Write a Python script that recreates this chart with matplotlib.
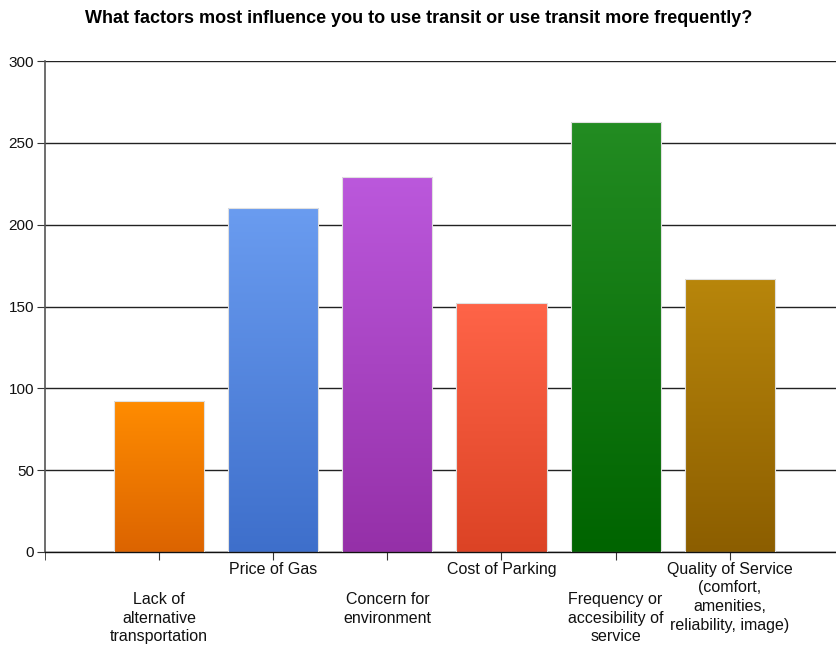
import numpy as np
import matplotlib.pyplot as plt
from matplotlib.colors import LinearSegmentedColormap

plt.rcParams['font.family'] = ['Liberation Sans', 'DejaVu Sans']

# data
factors = [
    "Lack of\nalternative\ntransportation",
    "Price of Gas",
    "Concern for\nenvironment",
    "Cost of Parking",
    "Frequency or\naccesibility of\nservice",
    "Quality of Service\n(comfort,\namenities,\nreliability, image)",
]
responses = [92, 210, 229, 152, 263, 167]

# (top colour, bottom colour) for each bar gradient
bar_shades = [
    ("#ff8c00", "#dc6400"),
    ("#6a9cf0", "#3e6fcb"),
    ("#bb58dc", "#9530a8"),
    ("#ff6448", "#dc4325"),
    ("#238c22", "#006400"),
    ("#b8860b", "#8c5e00"),
]

fig = plt.figure(figsize=(8.37, 6.45), dpi=100)
ax = fig.add_axes([0.0538, 0.1442, 0.9462, 0.7612])

x = np.arange(len(factors))
bars = ax.bar(x, responses, width=0.79, color="none", edgecolor="#e0e0e0",
              linewidth=0.8, zorder=3)

grad = np.linspace(1, 0, 256).reshape(-1, 1)
for bar, (top, bottom) in zip(bars, bar_shades):
    cmap = LinearSegmentedColormap.from_list("g", [bottom, top])
    bx, by = bar.get_x(), bar.get_y()
    bw, bh = bar.get_width(), bar.get_height()
    im = ax.imshow(grad, cmap=cmap, aspect="auto", zorder=2,
                   extent=[bx, bx + bw, by, by + bh], origin="upper")
    im.set_clip_path(bar)

ax.set_xlim(-1, 5.94)
ax.set_ylim(0, 300)
ax.set_yticks(range(0, 301, 50))
ax.yaxis.grid(True, color="#222222", linewidth=1.0, zorder=1)
ax.set_axisbelow(True)

ax.set_xticks(x)
ax.set_xticklabels(factors, fontsize=11.5, color="#111111", linespacing=1.3)
ax.set_xticks([-1], minor=True)
ax.tick_params(axis="x", which="both", direction="out", length=6,
               color="#333333")
for i, tick in enumerate(ax.xaxis.get_major_ticks()):
    tick.set_pad(1 if i % 2 else 23)

ax.tick_params(axis="y", direction="out", length=6, color="#333333",
               labelsize=11, labelcolor="#111111", pad=2)

for side in ["top", "right"]:
    ax.spines[side].set_visible(False)
ax.spines["left"].set_color("#555555")
ax.spines["left"].set_linewidth(1.2)
ax.spines["bottom"].set_color("#111111")
ax.spines["bottom"].set_linewidth(1.0)

fig.text(0.5, 0.971,
         "What factors most influence you to use transit or use transit more frequently?",
         ha="center", va="center", fontsize=13, fontweight="bold")

fig.savefig("out.png", dpi=100)
